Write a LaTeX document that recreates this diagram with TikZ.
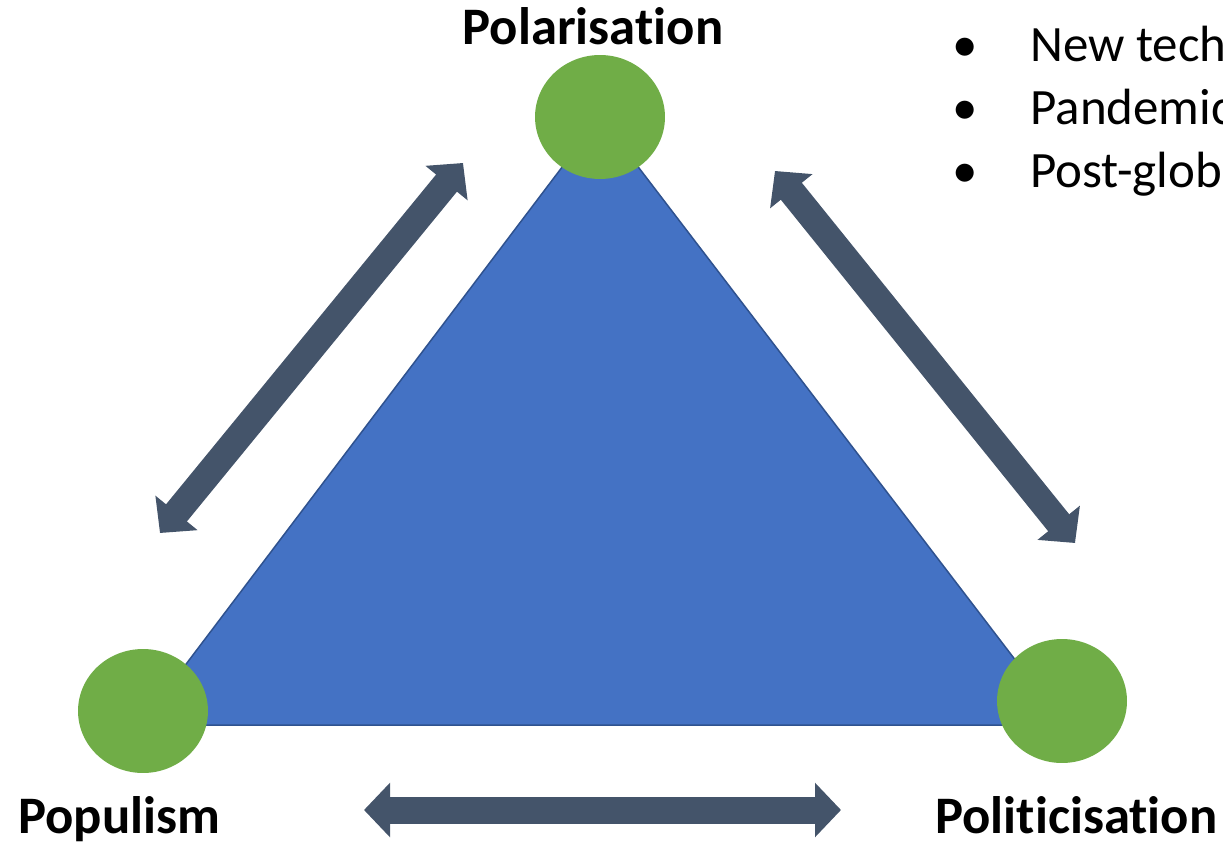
\documentclass[tikz,border=0pt]{standalone}
\usepackage{fontspec}
\setmainfont{Carlito}[Ligatures=NoCommon]
\usetikzlibrary{arrows.meta, shapes.geometric, positioning}
\definecolor{triBlue}{HTML}{4472C4}
\definecolor{triEdge}{HTML}{2F528F}
\definecolor{dotGreen}{HTML}{70AD47}
\definecolor{arrowSlate}{HTML}{44546A}

\begin{document}
\begin{tikzpicture}[
            x=0.02cm, y=-0.02cm,
            vertex dot/.style={
                ellipse, fill=dotGreen, draw=none,
                minimum width=2.6cm, minimum height=2.48cm, inner sep=0pt
            },
            link arrow/.style={
                arrowSlate, line width=0.54cm,
                {Triangle[length=0.52cm, width=1.06cm]}-{Triangle[length=0.52cm, width=1.06cm]}
            },
            label text/.style={
                inner sep=0pt, font=\fontsize{30}{36}\selectfont\bfseries
            },
            bullet text/.style={
                inner sep=0pt, anchor=base west, font=\fontsize{29}{35}\selectfont
            }
        ]
        \useasboundingbox (0, 0) rectangle (1223, 847);
        \clip (0, 0) rectangle (1223, 847);
        \def\baseY{725}

        % corners of the triangle
        \coordinate (apex) at (600, 117);
        \coordinate (baseLeft) at (140, \baseY);
        \coordinate (baseRight) at (1065, \baseY);
        \fill[triBlue, draw=triEdge, line width=0.03cm] (apex) -- (baseLeft) -- (baseRight) -- cycle;

        \node[vertex dot] (polDot) at (600, 117) {};
        \node[vertex dot] (popDot) at (143, 711) {};
        \node[vertex dot] (polsDot) at (1062, 701) {};

        \node[label text, anchor=base] (polLabel) at (593, 45) {Polarisation};
        \node[label text, anchor=base west] (popLabel) at (18, 833) {Populism};
        \node[label text, anchor=base west] (polsLabel) at (935, 833) {Politicisation};

        % double arrows beside the edges
        \coordinate (leftLow) at (160, 533);
        \coordinate (leftHigh) at (463, 163);
        \coordinate (rightHigh) at (775, 171);
        \coordinate (rightLow) at (1075, 543);
        \coordinate (bottomLeft) at (364, 810);
        \coordinate (bottomRight) at (841, 810);
        \draw[link arrow] (leftLow) -- (leftHigh);
        \draw[link arrow] (rightHigh) -- (rightLow);
        \draw[link arrow] (bottomLeft) -- (bottomRight);

        % list cut off at the right
        \foreach \txt [count=\i] in {New tech, Pandemic, Post-glob} {
            \node[bullet text] (item\i) at (1030, {62 + 63 * (\i - 1)}) {\txt};
            \node[bullet text, anchor=base] (dot\i) at (965, {62 + 63 * (\i - 1)}) {\textbullet};
        }
    \end{tikzpicture}
\end{document}
